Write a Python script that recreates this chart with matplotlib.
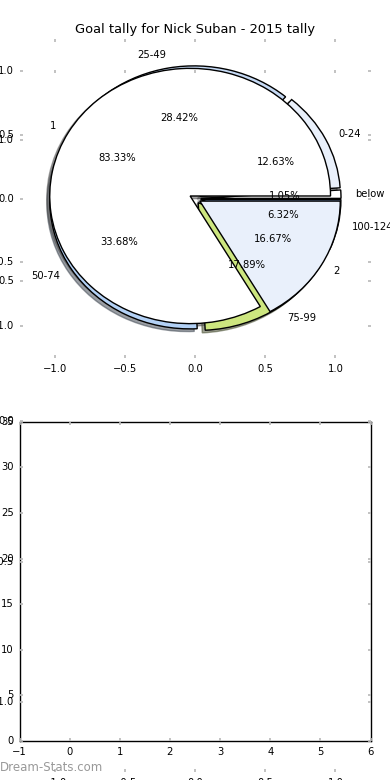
import matplotlib
matplotlib.use("Agg")
import matplotlib.pyplot as plt

# age-group pie
age_labels = ['below', '0-24', '25-49', '50-74', '75-99', '100-124']
age_counts = [1, 12, 27, 32, 17, 6]

# goal tally pie
tally_labels = ['1', '2']
tally_counts = [5, 1]

colors = ['white', '#e9f0fb', '#c6daf5', '#b3d1f5', '#cde67f', '#7f9fc8']

title = 'Goal tally for Nick Suban - 2015 tally'

plt.style.use('classic')
plt.rcParams['font.size'] = 7.2
plt.rcParams['figure.facecolor'] = 'white'
plt.rcParams['savefig.facecolor'] = 'white'
for ax_name in ['xtick', 'ytick']:
    plt.rcParams[ax_name + '.major.size'] = 2.5
    plt.rcParams[ax_name + '.major.width'] = 1.2
    plt.rcParams[ax_name + '.color'] = '#b8b8b8'
    plt.rcParams[ax_name + '.labelcolor'] = 'black'

fig, (ax1, ax2) = plt.subplots(2, 1, figsize=(3.9, 7.8), dpi=100)
fig.subplots_adjust(left=0.05, right=0.95, bottom=0.05, top=0.95, hspace=0.2)

ticks = [-1.0, -0.5, 0.0, 0.5, 1.0]
shadow = {'ox': -0.015, 'oy': -0.015}

ax1.pie(age_counts, labels=age_labels, colors=colors, autopct='%1.2f%%',
        explode=[0.04] * len(age_counts), shadow=shadow)
ax1.pie(tally_counts, labels=tally_labels, colors=colors, autopct='%1.2f%%',
        explode=[0.04] * len(tally_counts), shadow=shadow)
ax1.set_aspect('auto')
ax1.set_xlim(-1.25, 1.25)
ax1.set_ylim(-1.25, 1.25)
ax1.set_xticks(ticks)
ax1.set_yticks(ticks)
ax1.set_title(title, fontsize=9.4, pad=4.5)

# empty bar panel
ax2.set_xlim(-1, 6)
ax2.set_ylim(0, 35)

# leftover empty pie axes lying over everything
ax3 = fig.add_axes([0.05, 0.01, 0.9, 0.9])
ax3.set_frame_on(False)
ax3.patch.set_visible(False)
ax3.set_xlim(-1.25, 1.25)
ax3.set_ylim(-1.25, 1.25)
ax3.set_xticks(ticks)
ax3.set_yticks(ticks)

fig.text(0.0, 0.0155, 'Dream-Stats.com', color='#999999', fontsize=8.5,
         ha='left', va='center')

fig.savefig('out.png', dpi=100)
